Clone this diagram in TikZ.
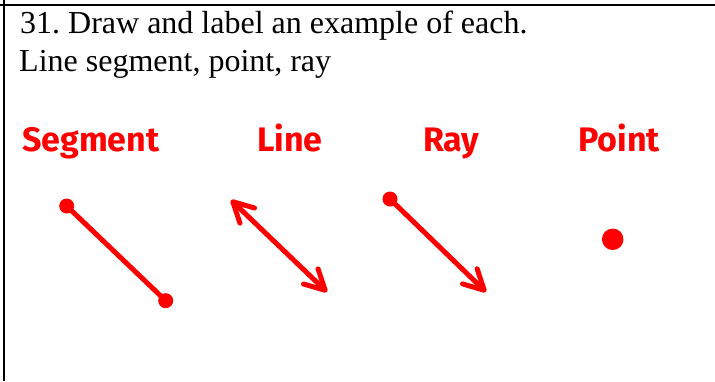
\documentclass[tikz,border=0pt]{standalone}
\usepackage{fontspec}
\setmainfont{Liberation Serif}
\newfontfamily\handfont{Fira Sans}
\usetikzlibrary{arrows.meta}
\definecolor{penred}{RGB}{255,0,0}
\frenchspacing
\tikzset{
  frameline/.style={line width=2pt, black},
  qtext/.style={anchor=base west, inner sep=0pt, font=\fontsize{32}{38}\selectfont},
  handlabel/.style={anchor=base west, inner sep=0pt, text=penred, font=\handfont\bfseries\fontsize{34}{40}\selectfont},
  dotsmall/.style={circle, fill=penred, inner sep=0pt, minimum size=15pt},
  dotbig/.style={circle, fill=penred, inner sep=0pt, minimum size=21.5pt},
  redline/.style={draw=penred, line width=5pt, line cap=round, line join=round},
  barb/.tip={Straight Barb[length=20pt, width=21pt, round]}
}
\begin{document}
\begin{tikzpicture}[x=1pt, y=-1pt]
\useasboundingbox (0,0) rectangle (715,381);
% frame
\draw[frameline] (4,0) -- (4,381);
\draw[frameline] (0,5) -- (715,5);
% question text
\node[qtext] (q1) at (20,33) {31. Draw and label an example of each.};
\node[qtext] (q2) at (19,71) {Line segment, point, ray};
% labels
\node[handlabel] (lseg) at (22,151) {Segment};
\node[handlabel] (lline) at (257,151) {Line};
\node[handlabel] (lray) at (423,151) {Ray};
\node[handlabel] (lpt) at (578,151) {Point};
% segment
\node[dotsmall] (s1) at (66.7,206) {};
\node[dotsmall] (s2) at (165.7,300.7) {};
\draw[redline] (s1.center) -- (s2.center);
% line
\coordinate (l1) at (231,200);
\coordinate (l2) at (327,292);
\draw[redline, {barb}-{barb}] (l1) -- (l2);
% ray
\node[dotsmall] (r1) at (390,199) {};
\coordinate (r2) at (486,292);
\draw[redline, -{barb}] (r1.center) -- (r2);
% point
\node[dotbig] (p) at (612.7,239.3) {};
\end{tikzpicture}
\end{document}
